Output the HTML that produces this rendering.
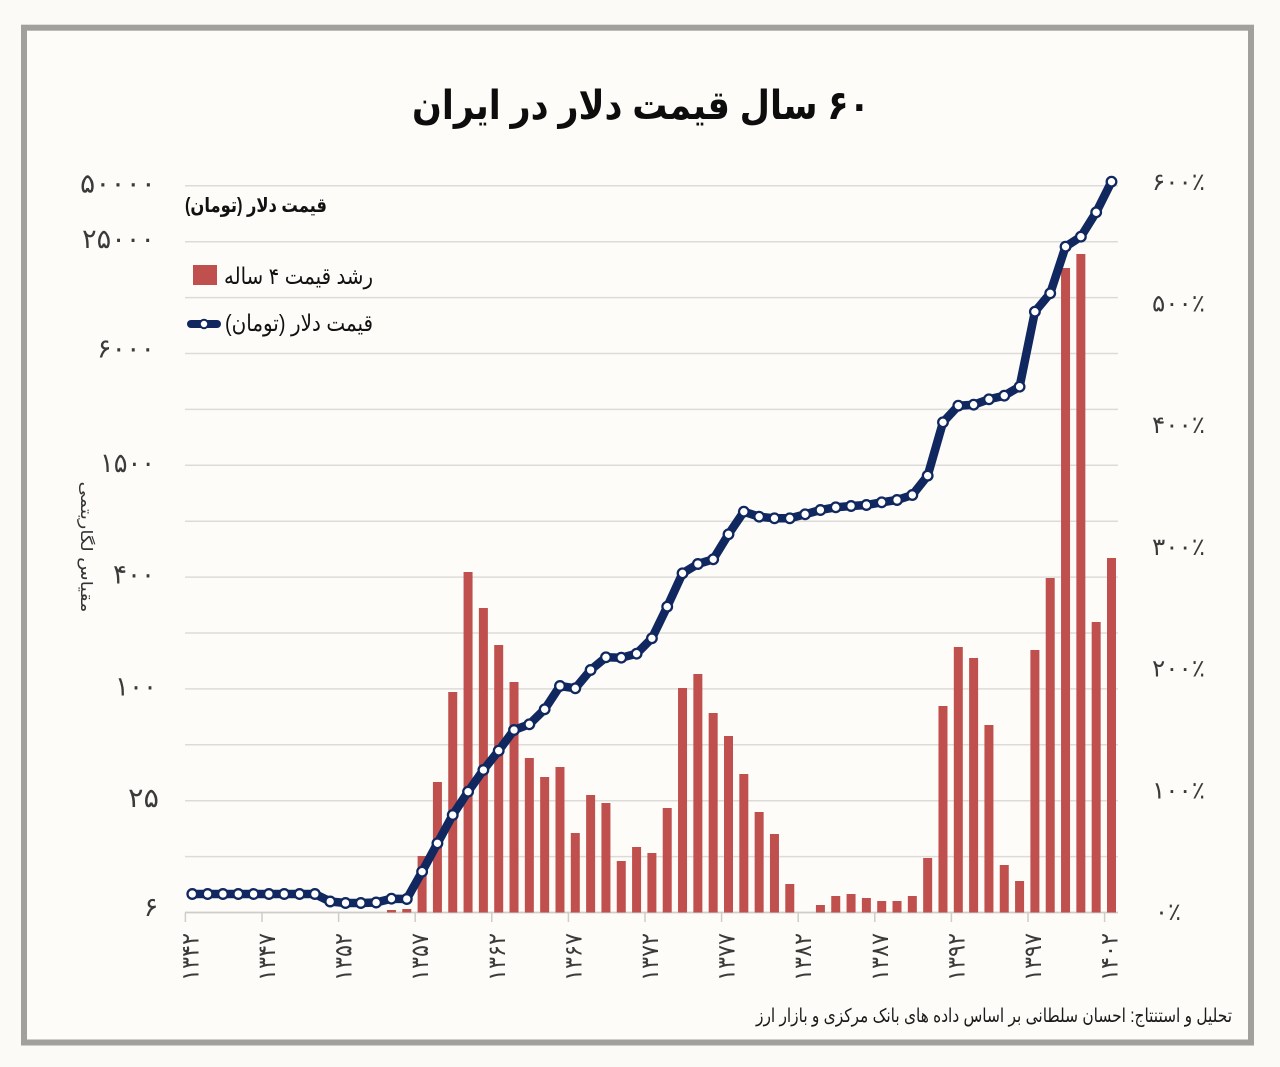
<!DOCTYPE html>
<html><head><meta charset="utf-8"><style>
html,body{margin:0;padding:0;background:#fcfbf7;}
svg{display:block}
text{font-family:"Liberation Sans","DejaVu Sans",sans-serif;}
</style></head><body>
<svg width="1280" height="1067" viewBox="0 0 1280 1067" xmlns="http://www.w3.org/2000/svg">
<defs>
<marker id="m" markerUnits="userSpaceOnUse" markerWidth="14" markerHeight="14" refX="7" refY="7" viewBox="0 0 14 14"><circle cx="7" cy="7" r="4.8" fill="#fff" stroke="#10285f" stroke-width="2.3"/></marker>
</defs>
<rect width="1280" height="1067" fill="#fbfaf6"/>
<rect x="24" y="27.7" width="1227" height="1014.8" fill="#fdfcf9" stroke="#a2a09d" stroke-width="6"/>

<text x="641" y="119" text-anchor="middle" direction="rtl" font-size="40" font-weight="bold" textLength="458" lengthAdjust="spacingAndGlyphs" fill="#0d0d0d">۶۰ سال قیمت دلار در ایران</text>

<path stroke="#dddbd7" stroke-width="1.5" fill="none" d="M185,856.6H1118M185,800.7H1118M185,744.8H1118M185,688.9H1118M185,633H1118M185,577.1H1118M185,521.2H1118M185,465.3H1118M185,409.4H1118M185,353.5H1118M185,297.6H1118M185,241.7H1118M185,185.8H1118"/>
<path stroke="#cfcdc9" stroke-width="1.8" fill="none" d="M185,912.5H1118"/>
<path stroke="#cfcdc9" stroke-width="1.5" fill="none" d="M185.4,912.5v9.5M262,912.5v9.5M338.6,912.5v9.5M415.2,912.5v9.5M491.8,912.5v9.5M568.4,912.5v9.5M645,912.5v9.5M721.6,912.5v9.5M798.2,912.5v9.5M874.8,912.5v9.5M951.4,912.5v9.5M1028,912.5v9.5M1104.6,912.5v9.5"/>

<g font-size="27" fill="#3a3a3a" text-anchor="middle">
<text x="118" y="192.3" textLength="76" lengthAdjust="spacingAndGlyphs">۵۰۰۰۰</text>
<text x="118.5" y="248.2" textLength="73" lengthAdjust="spacingAndGlyphs">۲۵۰۰۰</text>
<text x="126" y="357.5" textLength="58" lengthAdjust="spacingAndGlyphs">۶۰۰۰</text>
<text x="127.5" y="471.8" textLength="55" lengthAdjust="spacingAndGlyphs">۱۵۰۰</text>
<text x="134" y="583.6" textLength="42" lengthAdjust="spacingAndGlyphs">۴۰۰</text>
<text x="136" y="695.4" textLength="42" lengthAdjust="spacingAndGlyphs">۱۰۰</text>
<text x="143.5" y="807.2" textLength="31" lengthAdjust="spacingAndGlyphs">۲۵</text>
<text x="151" y="916">۶</text>
</g>

<g font-size="24" fill="#3a3a3a" text-anchor="middle">
<text x="1178.5" y="189.8" textLength="53" lengthAdjust="spacingAndGlyphs">۶۰۰٪</text>
<text x="1178.5" y="311.5" textLength="53" lengthAdjust="spacingAndGlyphs">۵۰۰٪</text>
<text x="1178.5" y="433.2" textLength="53" lengthAdjust="spacingAndGlyphs">۴۰۰٪</text>
<text x="1178.5" y="554.9" textLength="53" lengthAdjust="spacingAndGlyphs">۳۰۰٪</text>
<text x="1178.5" y="676.6" textLength="53" lengthAdjust="spacingAndGlyphs">۲۰۰٪</text>
<text x="1178.5" y="798.3" textLength="53" lengthAdjust="spacingAndGlyphs">۱۰۰٪</text>
<text x="1168" y="920" textLength="26" lengthAdjust="spacingAndGlyphs">۰٪</text>
</g>

<text transform="translate(81,547) rotate(90)" text-anchor="middle" direction="rtl" font-size="16" fill="#333" textLength="131" lengthAdjust="spacingAndGlyphs">مقیاس لگاریتمی</text>

<g font-size="24" fill="#3a3a3a" text-anchor="middle">
<text transform="translate(198.4,957) rotate(-90)" textLength="48" lengthAdjust="spacingAndGlyphs">۱۳۴۲</text>
<text transform="translate(275,957) rotate(-90)" textLength="48" lengthAdjust="spacingAndGlyphs">۱۳۴۷</text>
<text transform="translate(351.6,957) rotate(-90)" textLength="48" lengthAdjust="spacingAndGlyphs">۱۳۵۲</text>
<text transform="translate(428.2,957) rotate(-90)" textLength="48" lengthAdjust="spacingAndGlyphs">۱۳۵۷</text>
<text transform="translate(504.8,957) rotate(-90)" textLength="48" lengthAdjust="spacingAndGlyphs">۱۳۶۲</text>
<text transform="translate(581.4,957) rotate(-90)" textLength="48" lengthAdjust="spacingAndGlyphs">۱۳۶۷</text>
<text transform="translate(658,957) rotate(-90)" textLength="48" lengthAdjust="spacingAndGlyphs">۱۳۷۲</text>
<text transform="translate(734.6,957) rotate(-90)" textLength="48" lengthAdjust="spacingAndGlyphs">۱۳۷۷</text>
<text transform="translate(811.2,957) rotate(-90)" textLength="48" lengthAdjust="spacingAndGlyphs">۱۳۸۲</text>
<text transform="translate(887.8,957) rotate(-90)" textLength="48" lengthAdjust="spacingAndGlyphs">۱۳۸۷</text>
<text transform="translate(964.4,957) rotate(-90)" textLength="48" lengthAdjust="spacingAndGlyphs">۱۳۹۲</text>
<text transform="translate(1041,957) rotate(-90)" textLength="48" lengthAdjust="spacingAndGlyphs">۱۳۹۷</text>
<text transform="translate(1117.6,957) rotate(-90)" textLength="48" lengthAdjust="spacingAndGlyphs">۱۴۰۲</text>
</g>

<path fill="#c0504d" d="M386.96,910h9V912.5h-9zM402.28,909h9V912.5h-9zM417.6,856h9V912.5h-9zM432.92,782h9V912.5h-9zM448.24,692h9V912.5h-9zM463.56,572h9V912.5h-9zM478.88,608h9V912.5h-9zM494.2,645h9V912.5h-9zM509.52,682h9V912.5h-9zM524.84,758h9V912.5h-9zM540.16,777h9V912.5h-9zM555.48,767h9V912.5h-9zM570.8,833h9V912.5h-9zM586.12,795h9V912.5h-9zM601.44,803h9V912.5h-9zM616.76,861h9V912.5h-9zM632.08,847h9V912.5h-9zM647.4,853h9V912.5h-9zM662.72,808h9V912.5h-9zM678.04,688h9V912.5h-9zM693.36,674h9V912.5h-9zM708.68,713h9V912.5h-9zM724,736h9V912.5h-9zM739.32,774h9V912.5h-9zM754.64,812h9V912.5h-9zM769.96,834h9V912.5h-9zM785.28,884h9V912.5h-9zM815.92,905h9V912.5h-9zM831.24,896h9V912.5h-9zM846.56,894h9V912.5h-9zM861.88,898h9V912.5h-9zM877.2,901h9V912.5h-9zM892.52,901h9V912.5h-9zM907.84,896h9V912.5h-9zM923.16,858h9V912.5h-9zM938.48,706h9V912.5h-9zM953.8,647h9V912.5h-9zM969.12,658h9V912.5h-9zM984.44,725h9V912.5h-9zM999.76,865h9V912.5h-9zM1015.08,881h9V912.5h-9zM1030.4,650h9V912.5h-9zM1045.72,578h9V912.5h-9zM1061.04,268h9V912.5h-9zM1076.36,254h9V912.5h-9zM1091.68,622h9V912.5h-9zM1107,558h9V912.5h-9z"/>

<polyline fill="none" stroke="#10285f" stroke-width="8.5" stroke-linejoin="round" stroke-linecap="round" marker-start="url(#m)" marker-mid="url(#m)" marker-end="url(#m)" points="192.3,894 207.62,894 222.94,894 238.26,894 253.58,894 268.9,894 284.22,894 299.54,894 314.86,894 330.18,901.5 345.5,903 360.82,903 376.14,902.5 391.46,898.7 406.78,899 422.1,871.7 437.42,843.3 452.74,815 468.06,791.7 483.38,770 498.7,750.7 514.02,730 529.34,724.3 544.66,709.3 559.98,686 575.3,688.3 590.62,670 605.94,657.3 621.26,657.7 636.58,653.7 651.9,638.3 667.22,606.7 682.54,573.3 697.86,564 713.18,559.3 728.5,534.3 743.82,511.7 759.14,516.7 774.46,518.3 789.78,518.3 805.1,514.3 820.42,510 835.74,507.3 851.06,506 866.38,505 881.7,502.3 897.02,500 912.34,495 927.66,475.7 942.98,422.3 958.3,405.7 973.62,404.7 988.94,399.3 1004.26,395.7 1019.58,386.7 1034.9,311.7 1050.22,293.3 1065.54,246.7 1080.86,236.7 1096.18,212.3 1111.5,181.7"/>

<text x="256" y="212" text-anchor="middle" direction="rtl" font-size="20" font-weight="bold" fill="#111" textLength="142" lengthAdjust="spacingAndGlyphs">قیمت دلار  (تومان)</text>
<rect x="193" y="265" width="24" height="20" fill="#c0504d"/>
<text x="298.5" y="284" text-anchor="middle" direction="rtl" font-size="23" fill="#111" textLength="149" lengthAdjust="spacingAndGlyphs">رشد قیمت ۴ ساله</text>
<path d="M191,324H217" stroke="#10285f" stroke-width="8" stroke-linecap="round"/>
<circle cx="204" cy="324" r="4.2" fill="#fff" stroke="#10285f" stroke-width="2"/>
<text x="299" y="331" text-anchor="middle" direction="rtl" font-size="23" fill="#111" textLength="148" lengthAdjust="spacingAndGlyphs">قیمت دلار (تومان)</text>

<text x="994" y="1022" text-anchor="middle" direction="rtl" font-size="19" fill="#1a1a1a" textLength="476" lengthAdjust="spacingAndGlyphs">تحلیل و استنتاج: احسان سلطانی بر اساس داده های بانک مرکزی و بازار ارز</text>
</svg>
</body></html>
